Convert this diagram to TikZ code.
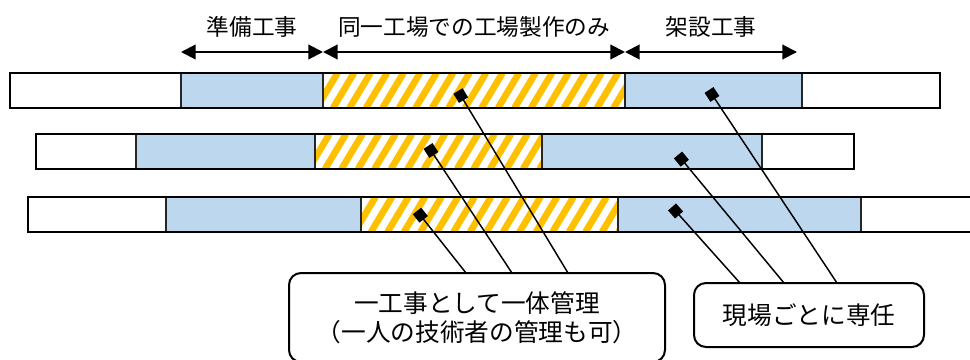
\documentclass[tikz,border=0pt]{standalone}
\usepackage{fontspec}
\setmainfont{Noto Sans CJK JP}
\usetikzlibrary{arrows.meta}
\definecolor{siteblue}{HTML}{BDD7EE}
\definecolor{shopyellow}{HTML}{FFC000}

\begin{document}
\begin{tikzpicture}[x=0.75pt,y=-0.75pt,font=\fontsize{17}{22}\selectfont,
	seg/.style={draw=black!85,line width=0.8pt},
	siteseg/.style={seg,fill=siteblue},
	stripe/.style={shopyellow,line width=5pt},
	barline/.style={draw,line width=1.6pt},
	span/.style={{Triangle[length=11pt,width=11pt]}-{Triangle[length=11pt,width=11pt]},line width=1.5pt},
	lead/.style={{Square[length=8pt,width=8pt]}-,line width=1.1pt},
	callout/.style={draw,line width=1.5pt,rounded corners=9pt,align=center,inner sep=0pt,font=\fontsize{18.5}{22}\selectfont}]
	\path[use as bounding box,fill=white] (0,0) rectangle (970,360);
	% headings and spans
	\node (t1) at (252,27) {準備工事};
	\node (t2) at (474,27) {同一工場での工場製作のみ};
	\node (t3) at (711,27) {架設工事};
	\coordinate (a0) at (181,52);
	\coordinate (a1) at (323,52);
	\coordinate (a2) at (625,52);
	\coordinate (a3) at (797,52);
	\draw[span] (a0) -- (a1);
	\draw[span] (a1) -- (a2);
	\draw[span] (a2) -- (a3);
	% bar 1
	\begin{scope}
		\clip (323,73) rectangle (625,108);
		\foreach \x in {300,316.5,...,640} \draw[stripe] (\x,108) -- ++(21,-35);
	\end{scope}
	\path[siteseg] (181,73) rectangle (323,108);
	\path[seg] (323,73) rectangle (625,108);
	\path[siteseg] (625,73) rectangle (802,108);
	\path[barline] (10,73) rectangle (940,108);
	% bar 2
	\begin{scope}
		\clip (315,134) rectangle (542,169);
		\foreach \x in {292,308.5,...,560} \draw[stripe] (\x,169) -- ++(21,-35);
	\end{scope}
	\path[siteseg] (136,134) rectangle (315,169);
	\path[seg] (315,134) rectangle (542,169);
	\path[siteseg] (542,134) rectangle (762,169);
	\path[barline] (36,134) rectangle (854,169);
	% bar 3
	\begin{scope}
		\clip (361,197) rectangle (618,232);
		\foreach \x in {338,354.5,...,640} \draw[stripe] (\x,232) -- ++(21,-35);
	\end{scope}
	\path[siteseg] (166,197) rectangle (361,232);
	\path[seg] (361,197) rectangle (618,232);
	\path[siteseg] (618,197) rectangle (861,232);
	\path[barline] (28,197) rectangle (1000,232);
	% callouts
	\node[callout,minimum width=282pt,minimum height=66.75pt] (box1) at (477,317.5) {一工事として一体管理\\（一人の技術者の管理も可）};
	\node[callout,minimum width=172.5pt,minimum height=48pt] (box2) at (809,315) {現場ごとに専任};
	\coordinate (p1) at (417,211);
	\coordinate (p2) at (428,146);
	\coordinate (p3) at (458,91);
	\coordinate (p4) at (672,207);
	\coordinate (p5) at (678,155);
	\coordinate (p6) at (709,90);
	\coordinate (e1) at (466,273);
	\coordinate (e2) at (512,273);
	\coordinate (e3) at (568,273);
	\coordinate (e4) at (740,283);
	\coordinate (e5) at (784,283);
	\coordinate (e6) at (837,283);
	\draw[lead] (p1) -- (e1);
	\draw[lead] (p2) -- (e2);
	\draw[lead] (p3) -- (e3);
	\draw[lead] (p4) -- (e4);
	\draw[lead] (p5) -- (e5);
	\draw[lead] (p6) -- (e6);
\end{tikzpicture}
\end{document}
